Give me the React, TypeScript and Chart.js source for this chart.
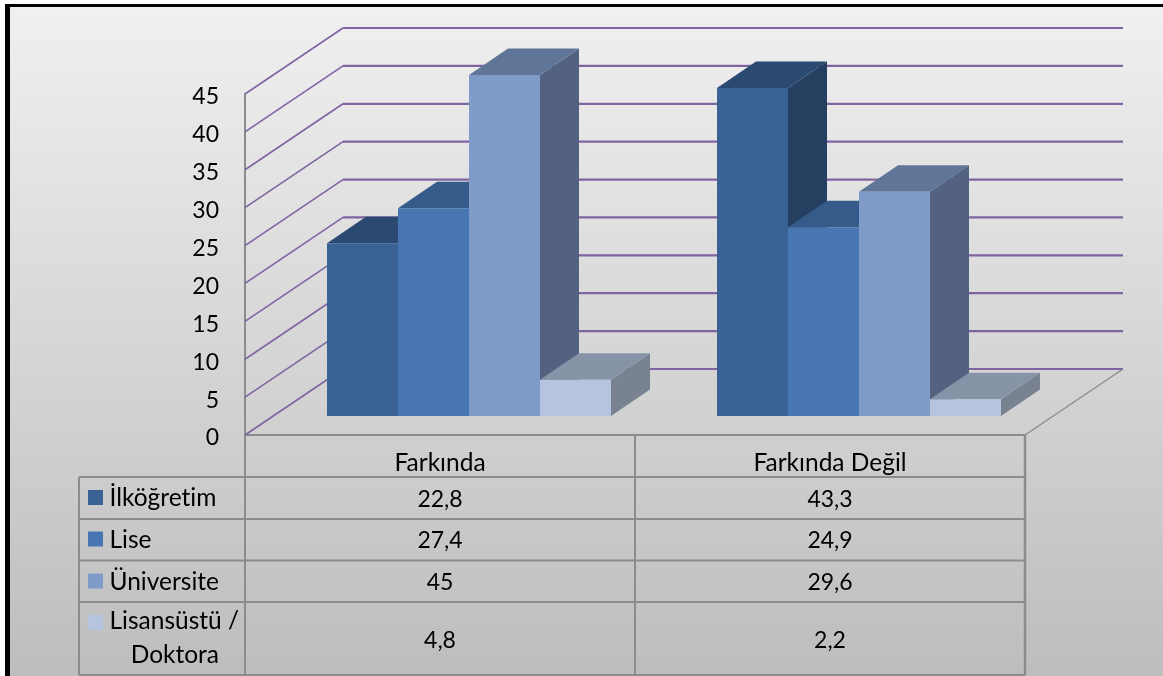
import React, { useEffect, useRef } from "react";
import { Chart, registerables } from "chart.js";

Chart.register(...registerables);

const categories = ["Farkında", "Farkında Değil"];
const seriesNames = ["İlköğretim", "Lise", "Üniversite", "Lisansüstü /\nDoktora"];
const ilkogretim = [22.8, 43.3];
const lise = [27.4, 24.9];
const universite = [45, 29.6];
const lisansustu = [4.8, 2.2];
const allSeries = [ilkogretim, lise, universite, lisansustu];
const frontColors = ["#3b6295", "#4876b2", "#7f9bc8", "#b6c4df"];
const topColors = ["#2a4a72", "#345b89", "#5f7698", "#8794a8"];
const sideColors = ["#243f60", "#2d4e78", "#526280", "#788290"];

const TEXT_FONT = "24.5px Lato";
const NUM_FONT = "23px Lato";
const GRID = "#8064a2";
const EDGE = "#8c8c8c";
const DX = 29, DY = -19;        // bar plane offset from the front of the floor
const BDX = 39, BDY = -26.5;    // bar depth
const WDX = 98, WDY = -66;      // wall offset
const rowLines = [477, 519, 560.5, 602, 675];
const rowCenters = [498.5, 540, 582, 0];

const line = (ctx: CanvasRenderingContext2D, pts: number[][], color: string, width: number) => {
  ctx.beginPath();
  pts.forEach(([x, y], i) => (i ? ctx.lineTo(x, y) : ctx.moveTo(x, y)));
  ctx.strokeStyle = color;
  ctx.lineWidth = width;
  ctx.stroke();
};
const poly = (ctx: CanvasRenderingContext2D, pts: number[][], color: string) => {
  ctx.beginPath();
  pts.forEach(([x, y], i) => (i ? ctx.lineTo(x, y) : ctx.moveTo(x, y)));
  ctx.closePath();
  ctx.fillStyle = color;
  ctx.fill();
};

const scenePlugin = {
  id: "scene",
  afterLayout(chart: any) {
    const yS = chart.scales.y;
    const proto = Object.getPrototypeOf(yS);
    yS.drawLabels = function (area: any) {
      this.ctx.save();
      this.ctx.translate(0, 3);
      proto.drawLabels.call(this, area);
      this.ctx.restore();
    };
  },
  beforeDraw(chart: any) {
    const { ctx, width, height } = chart;
    ctx.save();
    ctx.fillStyle = "#ffffff";
    ctx.fillRect(0, 0, width, height);
    const g = ctx.createLinearGradient(0, 7, 0, height);
    g.addColorStop(0, "#f0f0f0");
    g.addColorStop(1, "#bdbdbd");
    ctx.fillStyle = g;
    ctx.fillRect(10, 7, width - 10, height - 7);
    ctx.fillStyle = "#000000";
    ctx.fillRect(5, 4, width - 5, 3);
    ctx.fillRect(5, 4, 5, height - 4);
    ctx.restore();
  },
  beforeDatasetsDraw(chart: any) {
    const { ctx, scales } = chart;
    const yS = scales.y;
    const { left, right, bottom } = chart.chartArea;
    ctx.save();
    // back wall and side wall grid
    yS.ticks.forEach((t: any) => {
      const y = yS.getPixelForValue(t.value);
      line(ctx, [[left, y], [left + WDX, y + WDY]], GRID, 1.6);
      line(ctx, [[left + WDX, y + WDY], [right + WDX, y + WDY]], GRID, 2.2);
    });
    // floor edge
    line(ctx, [[right, bottom], [right + WDX, bottom + WDY]], EDGE, 1.5);
    // bars, left to right, each with its side and top behind the front
    chart.getSortedVisibleDatasetMetas().forEach((meta: any) => {
      const i = meta.index;
      meta.data.forEach((bar: any) => {
        const l = bar.x - bar.width / 2 + DX;
        const r = bar.x + bar.width / 2 + DX;
        const t = bar.y + DY;
        const b = bar.base + DY;
        poly(ctx, [[r, t], [r + BDX, t + BDY], [r + BDX, b + BDY], [r, b]], sideColors[i]);
        poly(ctx, [[l, t], [r, t], [r + BDX, t + BDY], [l + BDX, t + BDY]], topColors[i]);
        ctx.save();
        ctx.translate(DX, DY);
        bar.draw(ctx);
        ctx.restore();
      });
    });
    ctx.restore();
    return false;
  },
  afterDraw(chart: any) {
    const { ctx, scales } = chart;
    const xS = scales.x;
    const { left, right, bottom } = chart.chartArea;
    const tableLeft = 79;
    ctx.save();
    // data table grid
    rowLines.forEach((y) => line(ctx, [[tableLeft, y], [right, y]], EDGE, 2));
    line(ctx, [[tableLeft, rowLines[0]], [tableLeft, rowLines[4]]], EDGE, 2);
    line(ctx, [[left, bottom], [left, rowLines[4]]], EDGE, 2);
    line(ctx, [[(left + right) / 2, bottom], [(left + right) / 2, rowLines[4]]], EDGE, 2);
    line(ctx, [[right, bottom], [right, rowLines[4]]], EDGE, 2.5);
    // data table contents
    ctx.textBaseline = "middle";
    (ctx as any).textRendering = "optimizeSpeed";
    seriesNames.forEach((name, i) => {
      const parts = name.split("\n");
      const cy = parts.length > 1 ? 640 : rowCenters[i];
      const keyY = parts.length > 1 ? 622.5 : cy - 1;
      ctx.fillStyle = frontColors[i];
      ctx.fillRect(88, keyY - 7.5, 15, 15);
      ctx.fillStyle = "#000000";
      ctx.font = TEXT_FONT;
      ctx.textAlign = "left";
      if (parts.length > 1) {
        ctx.fillText(parts[0], 109.5, 621);
        ctx.textAlign = "right";
        ctx.fillText(parts[1], 219, 655);
      } else {
        ctx.fillText(name, 109.5, cy);
      }
      ctx.textAlign = "center";
      ctx.font = NUM_FONT;
      allSeries[i].forEach((v, c) => {
        ctx.fillText(String(v).replace(".", ","), xS.getPixelForTick(c), cy + 1);
      });
    });
    ctx.restore();
  },
};

export default function App() {
  const ref = useRef<HTMLCanvasElement>(null);
  useEffect(() => {
    const chart = new Chart(ref.current!, {
      type: "bar",
      data: {
        labels: categories,
        datasets: allSeries.map((data, i) => ({
          label: seriesNames[i].replace("\n", " "),
          data,
          backgroundColor: frontColors[i],
          borderWidth: 0,
          barPercentage: 1,
          categoryPercentage: 0.7282,
        })),
      },
      options: {
        responsive: false,
        animation: false,
        events: [],
        layout: { padding: { top: 94, right: 138, left: 0, bottom: 0 } },
        plugins: { legend: { display: false }, tooltip: { enabled: false }, title: { display: false } },
        scales: {
          x: {
            grid: { display: false, drawTicks: false },
            border: { display: true, color: EDGE, width: 2 },
            ticks: { font: { family: "Lato", size: 24.5 }, color: "#000", padding: 13, maxRotation: 0 },
            afterFit: (s: any) => { s.height = 241; },
          },
          y: {
            min: 0,
            max: 45,
            grid: { display: false, drawTicks: false },
            border: { display: true, color: EDGE, width: 2 },
            ticks: { stepSize: 5, font: { family: "Lato", size: 23 }, color: "#000", padding: 26 },
            afterFit: (s: any) => { s.width = 245; },
          },
        },
      },
      plugins: [scenePlugin],
    } as any);
    return () => chart.destroy();
  }, []);
  return (
    <div style={{ position: "fixed", left: 0, top: 0, width: 1163, height: 676 }}>
      <canvas ref={ref} width={1163} height={676} style={{ display: "block" }} />
    </div>
  );
}
